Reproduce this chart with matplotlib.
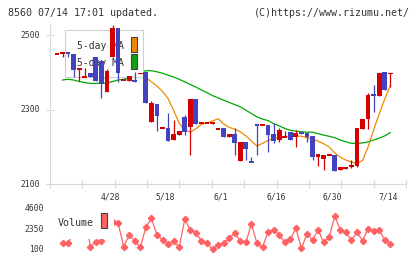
import matplotlib
matplotlib.use("Agg")
import matplotlib.pyplot as plt
import matplotlib.transforms as mtransforms
from matplotlib.patches import Rectangle
import numpy as np

# daily candles, day 1..61
opens = [2449, 2450, 2455, 2450, 2408, 2388, 2400, 2441, 2431, 2349,
         2443, 2519, 2379, 2378, 2380, 2397, 2402, 2268, 2316, 2250,
         2252, 2219, 2233, 2281, 2255, 2329, 2264, 2264, 2263, 2249,
         2252, 2228, 2235, 2163, 2214, 2163, 2262, 2258, 2259, 2235,
         2219, 2227, 2240, 2227, 2237, 2237, 2230, 2174, 2168, 2178,
         2179, 2138, 2142, 2149, 2150, 2249, 2275, 2340, 2338, 2401,
         2397]
highs = [2451, 2455, 2455, 2450, 2409, 2413, 2400, 2441, 2431, 2410,
         2528, 2519, 2381, 2390, 2402, 2398, 2402, 2324, 2316, 2253,
         2291, 2273, 2244, 2287, 2329, 2329, 2265, 2265, 2264, 2250,
         2252, 2235, 2250, 2214, 2214, 2174, 2262, 2259, 2259, 2264,
         2250, 2244, 2240, 2246, 2237, 2237, 2230, 2181, 2179, 2179,
         2179, 2146, 2147, 2165, 2252, 2275, 2344, 2367, 2398, 2401,
         2398]
lows = [2449, 2441, 2443, 2387, 2378, 2388, 2389, 2378, 2331, 2349,
        2443, 2375, 2379, 2378, 2375, 2397, 2319, 2268, 2244, 2250,
        2217, 2219, 2233, 2233, 2179, 2263, 2264, 2264, 2263, 2249,
        2228, 2228, 2179, 2163, 2165, 2159, 2179, 2258, 2188, 2210,
        2214, 2227, 2219, 2201, 2236, 2213, 2165, 2149, 2138, 2178,
        2136, 2138, 2140, 2143, 2146, 2249, 2248, 2295, 2338, 2353,
        2362]
closes = [2451, 2455, 2450, 2408, 2409, 2389, 2389, 2378, 2368, 2404,
          2519, 2399, 2381, 2390, 2375, 2398, 2319, 2317, 2283, 2253,
          2217, 2235, 2244, 2240, 2329, 2263, 2265, 2265, 2264, 2250,
          2228, 2235, 2212, 2214, 2195, 2159, 2258, 2259, 2232, 2217,
          2246, 2228, 2219, 2239, 2236, 2228, 2174, 2181, 2179, 2179,
          2136, 2146, 2147, 2150, 2252, 2275, 2340, 2339, 2398, 2353,
          2398]

nan = np.nan
ma5 = [nan, nan, nan, nan, 2433, 2421, 2408, 2394, 2386, 2385,
       2411, 2413, 2414, 2418, 2413, 2395, 2387, 2375, 2364, 2349,
       2330, 2298, 2264, 2246, 2240, 2249, 2261, 2265, 2270, 2276,
       2262, 2253, 2248, 2241, 2230, 2216, 2203, 2210, 2218, 2223,
       2226, 2228, 2229, 2230, 2229, 2225, 2221, 2216, 2209, 2200,
       2184, 2173, 2165, 2160, 2156, 2164, 2200, 2246, 2289, 2329,
       2365]
ma25 = [nan, 2380, 2382, 2380, 2376, 2373, 2371, 2371, 2371, 2372,
        2376, 2380, 2382, 2385, 2392, 2400, 2405, 2405, 2402, 2398,
        2393, 2388, 2382, 2375, 2368, 2361, 2353, 2346, 2338, 2332,
        2326, 2320, 2314, 2308, 2299, 2290, 2281, 2275, 2271, 2263,
        2257, 2250, 2245, 2243, 2241, 2240, 2240, 2236, 2232, 2229,
        2225, 2219, 2214, 2210, 2210, 2211, 2214, 2219, 2224, 2230,
        2239]

volume = [nan, 770, 770, 2050, 3000, 4500, 390, 950, 1030, 1830,
          3200, 3070, 390, 1700, 1030, 320, 2560, 3560, 1700, 1140,
          700, 1030, 320, 3450, 2260, 1960, 1030, 770, 100, 580,
          770, 1330, 1890, 1030, 880, 2930, 770, 320, 2070, 2260,
          1700, 880, 1220, 2440, 210, 1810, 1140, 2260, 880, 1440,
          3820, 2260, 2000, 1140, 2000, 1070, 2370, 2150, 2260, 1140,
          700]

price_ticks = [2100, 2300, 2500]
vol_ticks = [100, 2350, 4600]
date_labels = ["4/28", "5/18", "6/1", "6/16", "6/30", "7/14"]
date_days = [11, 21, 31, 41, 51, 61]

RED = "#d20000"
BLUE = "#4343c2"
ORANGE = "#ee8a00"
GREEN = "#00a800"
VOLC = "#ff6262"
GRID = "#d8d8d8"
TXT = "#333333"
MONO = "DejaVu Sans Mono"

W, H = 420, 259


def fx(x):
    return x / W


def fy(y):
    return 1 - y / H


fig = plt.figure(figsize=(4.2, 2.59), dpi=100)
fig.patch.set_facecolor("white")

# candle i sits at pixel 57 + (i-1)*5.555; plot spans 50..406 px
step = 5.555
x0 = 1 + (50 - 57) / step
x1 = 1 + (406 - 57) / step

ax = fig.add_axes([fx(50), fy(184.3), fx(356), (184.3 - 25) / H])
ax.set_xlim(x0, x1)
ax.set_ylim(2100, 2527.7)
for s in ["top", "right"]:
    ax.spines[s].set_visible(False)
for s in ["left", "bottom"]:
    ax.spines[s].set_color(GRID)
    ax.spines[s].set_linewidth(0.8)
ax.set_xticks(np.linspace(x0, x1, 12))
ax.set_yticks(price_ticks)
ax.set_xticklabels([])
ax.set_yticklabels([])
ax.tick_params(direction="inout", length=6, width=0.8, color=GRID)

days = np.arange(1, len(closes) + 1)
o = np.array(opens, float)
c = np.array(closes, float)
cols = [RED if cc >= oo else BLUE for oo, cc in zip(o, c)]

ax.plot(days, ma25, color=GREEN, lw=0.9, zorder=1.5)
ax.plot(days, ma5, color=ORANGE, lw=0.9, zorder=1.5)

ax.vlines(days, lows, highs, colors=cols, lw=0.9, zorder=3)
bot = np.minimum(o, c)
hgt = np.abs(c - o)
thin = hgt < 5
bot = np.where(thin, (o + c) / 2 - 2.6, bot)
hgt = np.where(thin, 5.2, hgt)
ax.bar(days, hgt, bottom=bot, width=0.86, color=cols, linewidth=0, zorder=4)

# legend box (candles are drawn over it, the MA lines under it)
ax.add_patch(Rectangle((fx(65.3), fy(77.3)), fx(78), 47.3 / H,
                       transform=fig.transFigure, facecolor="white",
                       edgecolor="#d0d0d0", lw=0.8, zorder=2, clip_on=False))
ax.text(fx(124), fy(46), "5-day MA", transform=fig.transFigure, ha="right",
        va="center", fontsize=7, family=MONO, color=TXT, zorder=2.5)
ax.text(fx(124), fy(62.5), "25-day MA", transform=fig.transFigure, ha="right",
        va="center", fontsize=7, family=MONO, color=TXT, zorder=2.5)
ax.add_patch(Rectangle((fx(131), fy(51.7)), fx(6.3), 14.4 / H,
                       transform=fig.transFigure, facecolor=ORANGE,
                       edgecolor="#444444", lw=0.8, zorder=2.6, clip_on=False))
ax.add_patch(Rectangle((fx(131), fy(69.3)), fx(6.3), 15 / H,
                       transform=fig.transFigure, facecolor="#10a010",
                       edgecolor="#444444", lw=0.8, zorder=2.6, clip_on=False))

ytr = mtransforms.blended_transform_factory(fig.transFigure, ax.transData)
for v in price_ticks:
    ax.text(fx(40), v, str(v), transform=ytr, ha="right", va="center",
            fontsize=5.8, family=MONO, color=TXT, clip_on=False)

xtr = mtransforms.blended_transform_factory(ax.transData, fig.transFigure)
for d, lab in zip(date_days, date_labels):
    ax.text(d - 0.45, fy(197.5), lab, transform=xtr, ha="center", va="center",
            fontsize=5.8, family=MONO, color=TXT, clip_on=False)

# volume panel
vx = fig.add_axes([fx(50), fy(253), fx(356), 50 / H])
vx.set_xlim(x0, x1)
vx.set_ylim(100 - 3.7 * 111.66, 4600 + 6 * 111.66)
vx.axis("off")
vx.plot(days, volume, color=VOLC, lw=0.9, marker="D", ms=3.2, mec=VOLC,
        mfc=VOLC, zorder=2)
vx.add_patch(Rectangle((fx(54), fy(238.5)), fx(60.5), 35.5 / H,
                       transform=fig.transFigure, facecolor="white",
                       edgecolor="none", zorder=3, clip_on=False))
vx.text(fx(58), fy(222.5), "Volume", transform=fig.transFigure, ha="left",
        va="center", fontsize=7.2, family=MONO, color=TXT, zorder=4)
vx.add_patch(Rectangle((fx(101), fy(228.3)), fx(6.3), 15 / H,
                       transform=fig.transFigure, facecolor=VOLC,
                       edgecolor="#444444", lw=0.8, zorder=4, clip_on=False))
vtr = mtransforms.blended_transform_factory(fig.transFigure, vx.transData)
for v in vol_ticks:
    vx.text(fx(44), v, str(v), transform=vtr, ha="right", va="center",
            fontsize=5.8, family=MONO, color=TXT, clip_on=False)

fig.text(fx(8), fy(13), "8560 07/14 17:01 updated.", ha="left", va="center",
         fontsize=7.2, family=MONO, color=TXT)
fig.text(fx(410), fy(13), "(C)https://www.rizumu.net/", ha="right",
         va="center", fontsize=7.2, family=MONO, color=TXT)

fig.savefig("out.png", dpi=100)
